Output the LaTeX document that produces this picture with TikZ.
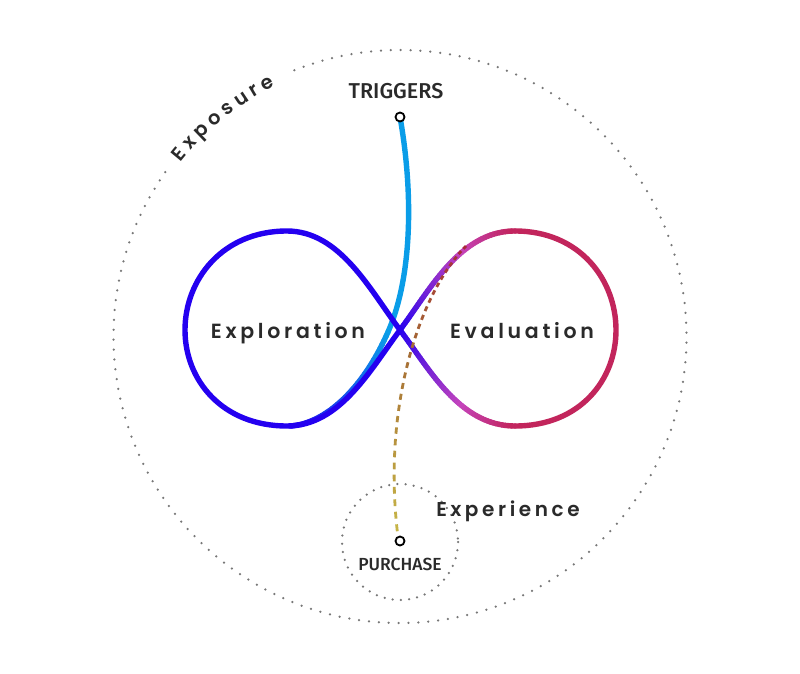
\documentclass[tikz,border=0pt]{standalone}
\usepackage{fontspec}
\setmainfont{Poppins}
\newfontfamily\lblfont[LetterSpace=18]{Poppins}[UprightFont=* SemiBold]
\newfontfamily\plainlbl{Poppins}[UprightFont=* SemiBold]
\newfontfamily\capfont{Fira Sans}[UprightFont=* Medium]
\usetikzlibrary{decorations.text}
\definecolor{txt}{HTML}{2A2A2A}
\definecolor{dotgray}{HTML}{777777}
\definecolor{cblue}{HTML}{2400F0}
\definecolor{cmag}{HTML}{C444BC}
\definecolor{ccrim}{HTML}{C2255C}
\definecolor{csky}{HTML}{0A9DE8}
\definecolor{cdred}{HTML}{A82838}
\definecolor{cbrown}{HTML}{A46A34}
\definecolor{colive}{HTML}{C8B848}
\tikzset{
  declare function={bz(\qt,\qa,\qb,\qc,\qd)=(1-\qt)^3*\qa+3*(1-\qt)^2*\qt*\qb+3*(1-\qt)*\qt^2*\qc+\qt^3*\qd;},
  loopline/.style={line width=5.4pt,line cap=round,line join=round},
  dotring/.style={dotgray,line width=2.5pt,line cap=round,dash pattern=on 0pt off 9.9pt},
  smallring/.style={dotgray,line width=2.5pt,line cap=round,dash pattern=on 0pt off 8.2pt},
  endpt/.style={circle,draw=black,fill=white,line width=1.8pt,minimum size=9pt,inner sep=0pt},
  biglbl/.style={text=txt,font=\lblfont\fontsize{20.5}{21}\selectfont,anchor=base,inner sep=0pt},
  midlbl/.style={text=txt,font=\lblfont\fontsize{20}{20}\selectfont,anchor=base,inner sep=0pt},
  caplbl/.style={text=txt,font=\capfont,anchor=base,inner sep=0pt},
}
\begin{document}
\begin{tikzpicture}[x=1pt,y=-1pt]
\useasboundingbox (0,0) rectangle (800,674);
\fill[white] (0,0) rectangle (800,674);
% rings
\coordinate (c0) at (400,336.5);
\coordinate (c1) at (400,542);
\draw[dotring] (c0) ++(-145:286.5) arc[start angle=-145, end angle=-473, radius=286.5];
\draw[smallring] (c1) circle[radius=58];
% Exposure text along arc
\path[decorate,decoration={text along path,text align=center,
  text={|\plainlbl\fontsize{19.5}{19.5}\selectfont\color{txt}|E x p o s u r e}}]
  (c0) ++(-147:280) arc[start angle=-147, end angle=-111, radius=280];
% triggers line
\draw[loopline,csky] (400,117) .. controls (413,190) and (413,275) .. (388,332);
\foreach \i in {0,...,39}{
  \pgfmathsetmacro\ta{\i/40}\pgfmathsetmacro\tb{(\i+1)/40}
  \pgfmathtruncatemacro\pc{100*\ta}
  \draw[loopline,draw=cblue!\pc!csky]
    ({bz(\ta,388,363,325,290)},{bz(\ta,332,389,424,426)}) --
    ({bz(\tb,388,363,325,290)},{bz(\tb,332,389,424,426)});
}
% left lobe
\draw[loopline,cblue] (400,330) .. controls (370,290) and (340,231) .. (287,231)
  .. controls (222,231) and (185,280) .. (185,330)
  .. controls (185,380) and (222,426) .. (287,426)
  .. controls (340,426) and (370,370) .. (400,330);
% right lobe outer part
\draw[loopline,ccrim] (515,231) .. controls (580,231) and (616,280) .. (616,330)
  .. controls (616,380) and (580,426) .. (515,426);
% right lobe gradient branches
\foreach \i in {0,...,49}{
  \pgfmathsetmacro\ta{\i/50}\pgfmathsetmacro\tb{(\i+1)/50}
  \pgfmathsetmacro\tm{(\ta+\tb)/2}
  \pgfmathtruncatemacro\pa{min(100,100*\tm/0.62)}
  \pgfmathtruncatemacro\pb{max(0,min(100,100*(\tm-0.62)/0.38))}
  \ifnum\pb>0
    \def\col{ccrim!\pb!cmag}
  \else
    \def\col{cmag!\pa!cblue}
  \fi
  \draw[loopline,draw=\col]
    ({bz(\ta,400,430,460,515)},{bz(\ta,330,370,426,426)}) --
    ({bz(\tb,400,430,460,515)},{bz(\tb,330,370,426,426)});
  \draw[loopline,draw=\col]
    ({bz(\ta,400,430,460,515)},{bz(\ta,330,290,231,231)}) --
    ({bz(\tb,400,430,460,515)},{bz(\tb,330,290,231,231)});
}
% purchase dashed line
\foreach \i in {0,...,29}{
  \pgfmathsetmacro\ta{\i/30}\pgfmathsetmacro\tb{(\i+0.55)/30}
  \pgfmathsetmacro\tm{(\ta+\tb)/2}
  \pgfmathtruncatemacro\pa{min(100,100*\tm/0.45)}
  \pgfmathtruncatemacro\pb{max(0,min(100,100*(\tm-0.45)/0.55))}
  \ifnum\pb>0
    \def\col{colive!\pb!cbrown}
  \else
    \def\col{cbrown!\pa!cdred}
  \fi
  \draw[line width=2.8pt,draw=\col]
    ({bz(\ta,466,418,382,398)},{bz(\ta,246,295,410,537)}) --
    ({bz(\tb,466,418,382,398)},{bz(\tb,246,295,410,537)});
}
% end points
\node[endpt] (trig) at (400,117) {};
\node[endpt] (purch) at (400,541) {};
% labels
\node[caplbl,font=\capfont\fontsize{21.5}{21.5}\selectfont] (trigl) at (396,99) {TRIGGERS};
\node[caplbl,font=\capfont\fontsize{17.5}{17.5}\selectfont] (purchl) at (400,570) {PURCHASE};
\node[biglbl] (expl) at (288,338) {Exploration};
\node[biglbl] (eval) at (522,338) {Evaluation};
\node[midlbl] (expe) at (508,516) {Experience};
\end{tikzpicture}
\end{document}
